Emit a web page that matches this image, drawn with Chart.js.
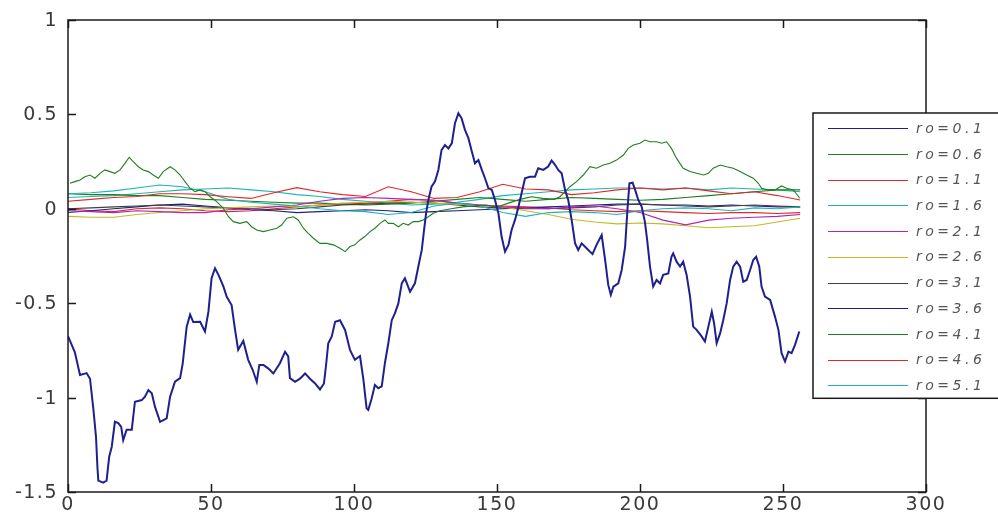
<!DOCTYPE html>
<html>
<head>
<meta charset="utf-8">
<title>ro sweep</title>
<script src="https://cdn.jsdelivr.net/npm/chart.js@4.4.1/dist/chart.umd.min.js"></script>
<style>
    html, body { margin: 0; padding: 0; background: #ffffff; }
    canvas { display: block; }
</style>
</head>
<body>
<canvas id="plot" width="998" height="515"></canvas>
<script>
/* ═══════════════════════════════════════════════════════════
   ro sweep — 11 traces, MATLAB-style axes with boxed legend
   ═══════════════════════════════════════════════════════════ */

// ─── Data ──────────────────────────────────────────────────

const LABELS = ['ro=0.1', 'ro=0.6', 'ro=1.1', 'ro=1.6', 'ro=2.1', 'ro=2.6',
                'ro=3.1', 'ro=3.6', 'ro=4.1', 'ro=4.6', 'ro=5.1'];

const X_TICKS = [0, 50, 100, 150, 200, 250, 300];
const Y_TICKS = [-1.5, -1, -0.5, 0, 0.5, 1];

// ro=0.1, the wide swinging trace
const BLUE_X = [
    0, 2.4, 4.2, 6.5, 7.7, 8.9, 9.8, 10.3, 10.6, 12.3, 13.5, 14.4, 15.3, 16.4, 17.6, 18.6, 19.3, 20.5,
    22.3, 23.4, 25.8, 26.9, 28.1, 29.3, 30.4, 32.2, 34.5, 35.7, 37.4, 39.2, 40.1, 41.5, 42.7, 43.8,
    46.2, 47.9, 49.1, 50.2, 51.4, 52.6, 54.3, 55.5, 57.2, 58.4, 59.5, 61.3, 63, 64.6, 66, 66.9, 68.3,
    70, 71.8, 74.1, 75.9, 77, 77.6, 79.4, 81.1, 82.9, 84.6, 86.4, 88.1, 89.5, 90.3, 91, 92.2, 93.4,
    95.1, 96.9, 98.6, 100.3, 102.1, 103.3, 104.4, 105, 106.2, 107.3, 108.5, 109.7, 110.8, 112, 113.2,
    114.3, 115.5, 116.7, 117.8, 119.6, 121.3, 122.5, 123.7, 124.5, 125.2, 126, 127.1, 128.3, 129.5,
    130.6, 131.8, 133, 134.2, 135.3, 136.5, 137.6, 138.8, 140, 141.2, 142.3, 143.5, 144.7, 145.8, 147,
    148.2, 149.3, 150.5, 151.6, 152.8, 154, 155.1, 156.3, 157.5, 158.6, 159.8, 161.5, 163.3, 164.4,
    166.2, 167.9, 169.1, 170.3, 171.4, 172.6, 173.8, 174.9, 176.1, 177.3, 178.4, 179.6, 181.4, 183.4,
    184.8, 186.6, 187.8, 188.9, 189.8, 190.7, 192.4, 193.6, 194.8, 195.6, 196.3, 197.4, 198.3, 199.4,
    200.6, 201.7, 202.5, 203.5, 204.6, 205.8, 207, 208.1, 209.9, 211, 211.6, 212.8, 214, 215.1, 216.3,
    217.5, 218.6, 219.8, 221.6, 222.7, 223.9, 225.1, 225.9, 226.8, 228, 229.1, 230.3, 231.5, 232.6,
    233.8, 235, 236.1, 237.3, 238.5, 239.6, 240.6, 241.7, 242.5, 243.7, 245.5, 247.2, 248.4, 249.5,
    250.7, 251.9, 253, 254.2, 255.7,
];
const BLUE_Y = [
    -0.674, -0.76, -0.88, -0.87, -0.9, -1.065, -1.21, -1.37, -1.44, -1.45, -1.44, -1.313, -1.26, -1.128,
    -1.135, -1.155, -1.226, -1.17, -1.17, -1.022, -1.013, -0.995, -0.96, -0.977, -1.048, -1.128, -1.11,
    -0.995, -0.916, -0.897, -0.82, -0.624, -0.56, -0.6, -0.598, -0.65, -0.545, -0.368, -0.315, -0.35,
    -0.41, -0.466, -0.51, -0.64, -0.747, -0.7, -0.8, -0.854, -0.916, -0.827, -0.827, -0.845, -0.872,
    -0.818, -0.757, -0.782, -0.897, -0.916, -0.9, -0.872, -0.9, -0.925, -0.957, -0.925, -0.818, -0.712,
    -0.677, -0.598, -0.59, -0.643, -0.748, -0.8, -0.78, -0.906, -1.056, -1.065, -1.003, -0.933, -0.95,
    -0.94, -0.818, -0.712, -0.59, -0.554, -0.501, -0.395, -0.368, -0.439, -0.395, -0.306, -0.218,
    -0.112, -0.024, 0.047, 0.117, 0.144, 0.206, 0.311, 0.338, 0.32, 0.347, 0.453, 0.506, 0.48, 0.418,
    0.374, 0.303, 0.241, 0.258, 0.206, 0.162, 0.109, 0.1, 0.047, -0.024, -0.147, -0.227, -0.191,
    -0.112, -0.059, 0.011, 0.082, 0.162, 0.17, 0.17, 0.215, 0.206, 0.224, 0.256, 0.233, 0.206, 0.188,
    0.1, 0.047, -0.059, -0.183, -0.218, -0.183, -0.21, -0.24, -0.191, -0.139, -0.271, -0.403, -0.456,
    -0.412, -0.395, -0.324, -0.2, -0.006, 0.135, 0.138, 0.1, 0.047, 0.011, -0.068, -0.165, -0.306,
    -0.412, -0.377, -0.395, -0.35, -0.342, -0.254, -0.236, -0.28, -0.306, -0.28, -0.35, -0.465, -0.624,
    -0.641, -0.677, -0.703, -0.624, -0.545, -0.606, -0.712, -0.66, -0.59, -0.501, -0.377, -0.306, -0.28,
    -0.306, -0.386, -0.377, -0.324, -0.271, -0.254, -0.306, -0.412, -0.465, -0.483, -0.571, -0.641,
    -0.765, -0.809, -0.757, -0.765, -0.721, -0.65,
];

// ro=0.6
const GREEN_X = [
    0.7, 2.4, 4.2, 5.9, 7.7, 9.4, 11.2, 12.9, 14.7, 16.4, 18.2, 19.9, 21.4, 22.8, 24.6, 26.3, 28.1,
    29.8, 31.6, 33.3, 35.7, 37.4, 39.2, 40.9, 42.7, 44.4, 46.2, 47.9, 49.7, 52, 54.3, 56.1, 57.8, 60.1,
    62.5, 64.2, 66, 68.3, 70.6, 73, 74.7, 76.5, 78.8, 80.5, 82.3, 84, 85.8, 88.1, 90.4, 92.8, 95.1,
    96.9, 98.6, 100.3, 102.1, 103.8, 105.6, 107.3, 109.1, 110.8, 112, 113.7, 115.5, 117.2, 119, 120.7,
    122.5, 124.2, 126, 127.7, 130, 134, 138, 142, 146, 150, 154, 158, 162, 166, 170, 172, 175.5,
    177.8, 180.2, 182.5, 184.8, 187.2, 189.5, 191.8, 194.2, 195.9, 197.7, 200, 201.7, 203.5, 205.8,
    207.6, 209.3, 211, 212.8, 215.1, 217.5, 219.8, 222.2, 223.9, 225.6, 228, 230.3, 232.6, 235, 237.3,
    239.6, 241.4, 242.5, 244.9, 247.2, 249.5, 251.3, 253.6, 255.9,
];
const GREEN_Y = [
    0.135, 0.144, 0.153, 0.17, 0.179, 0.162, 0.188, 0.206, 0.197, 0.188, 0.206, 0.241, 0.273, 0.25,
    0.223, 0.206, 0.197, 0.179, 0.162, 0.197, 0.223, 0.206, 0.179, 0.144, 0.109, 0.091, 0.1, 0.091,
    0.064, 0.038, 0.003, -0.042, -0.068, -0.077, -0.068, -0.095, -0.112, -0.121, -0.112, -0.103,
    -0.086, -0.05, -0.042, -0.059, -0.103, -0.13, -0.156, -0.183, -0.183, -0.191, -0.209, -0.227, -0.2,
    -0.191, -0.165, -0.147, -0.121, -0.103, -0.077, -0.059, -0.077, -0.077, -0.095, -0.077, -0.086,
    -0.068, -0.068, -0.059, -0.042, -0.024, -0.01, 0, 0.01, 0.015, 0.02, 0.01, 0.03, 0.05, 0.064, 0.055,
    0.05, 0.064, 0.117, 0.144, 0.179, 0.223, 0.215, 0.232, 0.241, 0.258, 0.285, 0.32, 0.338, 0.347,
    0.364, 0.355, 0.355, 0.347, 0.355, 0.32, 0.267, 0.215, 0.197, 0.188, 0.179, 0.188, 0.215, 0.232,
    0.223, 0.215, 0.197, 0.179, 0.162, 0.135, 0.109, 0.1, 0.1, 0.121, 0.109, 0.1, 0.056,
];

// the remaining nine traces stay close to zero; read every 8 samples
const SMALL_X = [0, 8, 16, 24, 32, 40, 48, 56, 64, 72, 80, 88, 96, 104, 112, 120, 128,
                 136, 144, 152, 160, 168, 176, 184, 192, 200, 208, 216, 224, 232, 240, 248, 256];

const RO_1_1 = [0.04, 0.05, 0.06, 0.065, 0.08, 0.08, 0.075, 0.064, 0.055, 0.085, 0.112, 0.09, 0.075, 0.065, 0.117, 0.09, 0.055,
                0.06, 0.09, 0.13, 0.105, 0.1, 0.075, 0.085, 0.1, 0.11, 0.1, 0.11, 0.095, 0.08, 0.09, 0.07, 0.047];
const RO_1_6 = [0.08, 0.085, 0.095, 0.11, 0.126, 0.117, 0.09, 0.05, 0.035, 0.025, 0.015, 0, -0.01, -0.015, -0.03, -0.02, 0.015,
                0.03, 0.015, -0.02, -0.04, -0.02, -0.015, -0.02, -0.03, -0.01, 0, 0.005, 0, -0.01, 0.005, 0, 0.01];
const RO_2_1 = [-0.01, -0.015, -0.02, -0.01, -0.015, -0.02, -0.02, -0.005, 0, 0.01, 0.02, 0.04, 0.055, 0.06, 0.055, 0.05, 0.045,
                0.03, 0.02, 0.01, 0.005, 0, 0.01, 0.015, 0, -0.02, -0.06, -0.085, -0.06, -0.05, -0.045, -0.04, -0.03];
const RO_2_6 = [-0.04, -0.045, -0.045, -0.03, -0.02, -0.01, 0, 0.005, 0.01, 0.015, 0.01, 0.02, 0.03, 0.035, 0.04, 0.035, 0.03,
                0.025, 0.02, 0.01, -0.01, -0.03, -0.055, -0.07, -0.08, -0.075, -0.08, -0.09, -0.1, -0.095, -0.09, -0.07, -0.05];
const RO_3_1 = [0, 0.005, 0.01, 0.015, 0.02, 0.015, 0.01, 0.005, 0, -0.005, 0, 0.01, 0.02, 0.025, 0.03, 0.035, 0.03,
                0.02, 0.01, 0.005, 0, 0, 0.005, 0.01, 0.02, 0.025, 0.02, 0.015, 0.01, 0.015, 0.02, 0.015, 0.01];
const RO_3_6 = [-0.02, -0.01, 0, 0.01, 0.02, 0.025, 0.015, 0.005, -0.005, -0.01, -0.02, -0.015, -0.01, -0.005, -0.01, -0.02, -0.015,
                -0.01, -0.005, 0, 0.005, 0.01, 0.015, 0.02, 0.025, 0.025, 0.02, 0.02, 0.015, 0.02, 0.015, 0.01, 0.01];
const RO_4_1 = [0.08, 0.075, 0.075, 0.07, 0.07, 0.06, 0.05, 0.045, 0.04, 0.035, 0.03, 0.03, 0.025, 0.02, 0.025, 0.03, 0.04,
                0.05, 0.06, 0.05, 0.04, 0.05, 0.06, 0.055, 0.05, 0.045, 0.05, 0.06, 0.07, 0.08, 0.09, 0.1, 0.1];
const RO_4_6 = [0, -0.01, -0.015, 0, 0.005, 0, -0.01, -0.015, -0.01, 0, 0.01, 0.02, 0.025, 0.03, 0.04, 0.05, 0.045,
                0.03, 0.02, 0.015, 0.01, 0.005, -0.005, -0.01, -0.015, -0.01, -0.015, -0.02, -0.025, -0.02, -0.02, -0.025, -0.02];
const RO_5_1 = [0.06, 0.065, 0.07, 0.08, 0.09, 0.1, 0.105, 0.11, 0.1, 0.09, 0.075, 0.065, 0.05, 0.04, 0.03, 0.02, 0.025,
                0.035, 0.05, 0.07, 0.08, 0.09, 0.1, 0.105, 0.11, 0.11, 0.105, 0.11, 0.1, 0.11, 0.105, 0.1, 0.09];

// MATLAB colour order, cycled
const LINE_COLORS = ['#1f1f8f', '#1f7f1f', '#e02828', '#1fb4b4', '#b424b4', '#bcbc24',
                     '#404040', '#1f1f8f', '#1f7f1f', '#e02828', '#1fb4b4'];

// ─── Helpers ───────────────────────────────────────────────

const toPoints = (xs, ys) => xs.map((x, i) => ({ x, y: ys[i] }));

const SERIES = [
    toPoints(BLUE_X, BLUE_Y),
    toPoints(GREEN_X, GREEN_Y),
    toPoints(SMALL_X, RO_1_1),
    toPoints(SMALL_X, RO_1_6),
    toPoints(SMALL_X, RO_2_1),
    toPoints(SMALL_X, RO_2_6),
    toPoints(SMALL_X, RO_3_1),
    toPoints(SMALL_X, RO_3_6),
    toPoints(SMALL_X, RO_4_1),
    toPoints(SMALL_X, RO_4_6),
    toPoints(SMALL_X, RO_5_1),
];

const fmtTick = v => String(v);

// ─── Axes box, inward ticks, labels, legend ────────────────

const matlabAxes = {
    id: 'matlabAxes',
    afterDraw(chart) {
        const { ctx, chartArea: a, scales } = chart;
        const xs = scales.x, ys = scales.y;
        const tick = 8;

        ctx.save();
        ctx.strokeStyle = '#1a1a1a';
        ctx.lineWidth = 1.5;
        ctx.strokeRect(a.left, a.top, a.right - a.left, a.bottom - a.top);

        ctx.beginPath();
        X_TICKS.forEach(v => {
            const px = Math.round(xs.getPixelForValue(v)) + 0.5;
            ctx.moveTo(px, a.bottom); ctx.lineTo(px, a.bottom - tick);
            ctx.moveTo(px, a.top); ctx.lineTo(px, a.top + tick);
        });
        Y_TICKS.forEach(v => {
            const py = Math.round(ys.getPixelForValue(v)) + 0.5;
            ctx.moveTo(a.left, py); ctx.lineTo(a.left + tick, py);
            ctx.moveTo(a.right, py); ctx.lineTo(a.right - tick, py);
        });
        ctx.stroke();

        // tick labels
        ctx.fillStyle = '#3a3a3a';
        ctx.font = '19px "DejaVu Sans", sans-serif';
        ctx.letterSpacing = '1.5px';
        ctx.textAlign = 'center';
        ctx.textBaseline = 'middle';
        X_TICKS.forEach(v => ctx.fillText(fmtTick(v), xs.getPixelForValue(v), a.bottom + 13));
        ctx.textAlign = 'right';
        Y_TICKS.forEach(v => ctx.fillText(fmtTick(v), a.left - 10, ys.getPixelForValue(v) + 1));

        // legend box
        const lx = 813, ly = 113, rowH = 25.7, firstRow = 128.3;
        const boxBottom = firstRow + rowH * (LABELS.length - 1) + 13;
        ctx.fillStyle = '#ffffff';
        ctx.fillRect(lx, ly, chart.width - lx + 10, boxBottom - ly);
        ctx.strokeStyle = '#1a1a1a';
        ctx.lineWidth = 1.5;
        ctx.strokeRect(lx, ly, chart.width - lx + 10, boxBottom - ly);

        ctx.font = 'italic 14px "DejaVu Sans", sans-serif';
        ctx.letterSpacing = '3.5px';
        ctx.textAlign = 'left';
        ctx.fillStyle = '#555555';
        chart.data.datasets.forEach((ds, i) => {
            const y = firstRow + rowH * i;
            ctx.strokeStyle = ds.borderColor;
            ctx.lineWidth = 1.2;
            ctx.beginPath();
            ctx.moveTo(828, Math.round(y) + 0.5);
            ctx.lineTo(908, Math.round(y) + 0.5);
            ctx.stroke();
            ctx.fillText(ds.label, 916, y + 1);
        });
        ctx.restore();
    },
};

// ─── Chart ─────────────────────────────────────────────────

new Chart(document.getElementById('plot'), {
    type: 'line',
    data: {
        datasets: SERIES.map((pts, i) => ({
            label: LABELS[i],
            data: pts,
            borderColor: LINE_COLORS[i],
            borderWidth: i === 0 ? 2 : 1.1,
            pointRadius: 0,
            tension: 0,
            fill: false,
        })),
    },
    options: {
        responsive: false,
        animation: false,
        devicePixelRatio: 1,
        layout: { padding: { left: 68, top: 20, right: 72, bottom: 23 } },
        plugins: { legend: { display: false }, tooltip: { enabled: false } },
        scales: {
            x: { type: 'linear', min: 0, max: 300, display: false },
            y: { type: 'linear', min: -1.5, max: 1, display: false },
        },
    },
    plugins: [matlabAxes],
});
</script>
</body>
</html>
